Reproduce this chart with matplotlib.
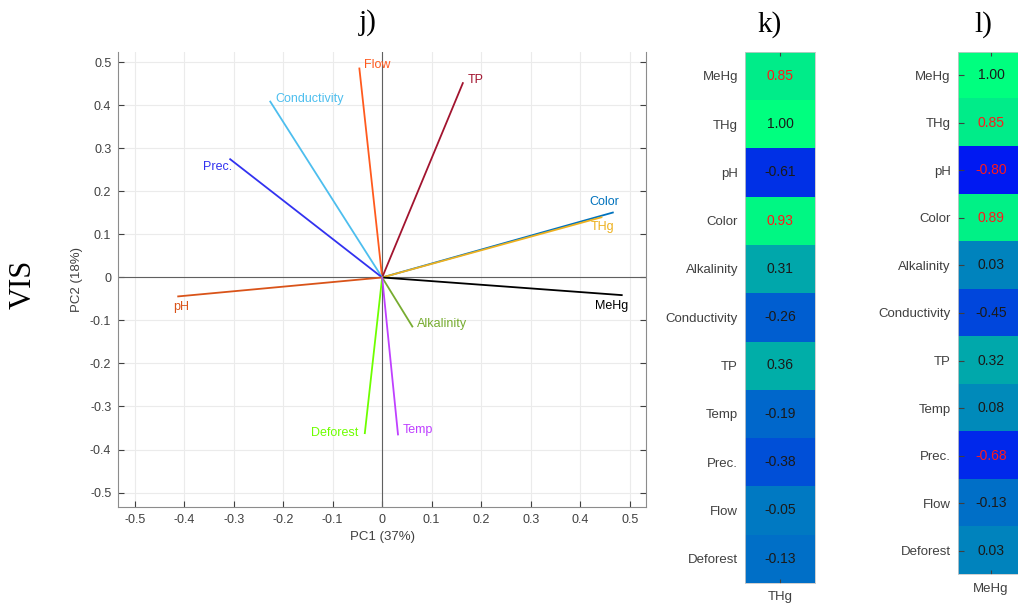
import numpy as np
import matplotlib
matplotlib.use('Agg')
import matplotlib.pyplot as plt

plt.rcParams['font.family'] = ['Liberation Sans', 'DejaVu Sans']
plt.rcParams['axes.unicode_minus'] = False

# Cargas del PCA (PC1, PC2)
variables = ['Flow', 'TP', 'Conductivity', 'Prec.', 'Color', 'THg', 'MeHg',
             'pH', 'Alkalinity', 'Deforest', 'Temp']
pc1 = [-0.046, 0.163, -0.226, -0.307, 0.466, 0.443, 0.484,
       -0.412, 0.061, -0.035, 0.032]
pc2 = [0.486, 0.452, 0.409, 0.275, 0.151, 0.140, -0.041,
       -0.044, -0.114, -0.362, -0.365]

# Correlaciones de Pearson con THg y MeHg
filas = ['MeHg', 'THg', 'pH', 'Color', 'Alkalinity', 'Conductivity', 'TP',
         'Temp', 'Prec.', 'Flow', 'Deforest']
corr_thg = [0.85, 1.00, -0.61, 0.93, 0.31, -0.26, 0.36, -0.19, -0.38, -0.05, -0.13]
corr_mehg = [1.00, 0.85, -0.80, 0.89, 0.03, -0.45, 0.32, 0.08, -0.68, -0.13, 0.03]
sig_thg = [True, False, False, True, False, False, False, False, False, False, False]
sig_mehg = [False, True, True, True, False, False, False, False, True, False, False]

# Estilo de cada vector: color, desplazamiento de la etiqueta en px (dx, dy hacia abajo), alineacion
estilo = {
    'Flow': ('#ff5a1e', 5, -3, 'left'),
    'TP': ('#a2142f', 5, -3, 'left'),
    'Conductivity': ('#4dbeee', 5, -3, 'left'),
    'Prec.': ('#3232f0', 2, 8, 'right'),
    'Color': ('#0072bd', -9, -11, 'center'),
    'THg': ('#edb120', 1, 10, 'center'),
    'MeHg': ('#000000', -10, 11, 'center'),
    'pH': ('#d95319', 3, 11, 'center'),
    'Alkalinity': ('#77ac30', 5, -3, 'left'),
    'Deforest': ('#6eff00', -6, 0, 'right'),
    'Temp': ('#bf40ff', 5, -4, 'left'),
}

W, H = 1018, 606
fig = plt.figure(figsize=(W / 100, H / 100), dpi=100)


def caja(x0, y0, x1, y1):
    # convierte pixeles (origen arriba-izquierda) a fracciones de figura
    return [x0 / W, 1 - y1 / H, (x1 - x0) / W, (y1 - y0) / H]


gris_texto = '#404040'

# ---- Biplot PCA ----
ax = fig.add_axes(caja(118.3, 51.7, 646, 506.7))
ax.set_xlim(-0.533, 0.533)
ax.set_ylim(-0.533, 0.525)
ticks = np.round(np.arange(-0.5, 0.51, 0.1), 1)
etiquetas = ['0' if t == 0 else f'{t:g}' for t in ticks]
ax.set_xticks(ticks, etiquetas)
ax.set_yticks(ticks, etiquetas)
ax.grid(True, color='#ebebeb', linewidth=0.8)
ax.set_axisbelow(True)
ax.tick_params(direction='in', length=4, labelsize=9, colors=gris_texto,
               top=False, right=True, labelright=False, pad=5)
for lado in ['left', 'bottom', 'right']:
    ax.spines[lado].set_color('#8c8c8c')
    ax.spines[lado].set_linewidth(0.8)
ax.spines['top'].set_visible(False)
ax.axhline(0, color='#606060', linewidth=0.8)
ax.axvline(0, color='#606060', linewidth=0.8)

for nombre, x, y in zip(variables, pc1, pc2):
    color, dx, dy, ha = estilo[nombre]
    ax.plot([0, x], [0, y], color=color, linewidth=1.3)
    ax.annotate(nombre, (x, y), xytext=(dx * 0.72, -dy * 0.72), textcoords='offset points',
                ha=ha, va='center', color=color, fontsize=9)

ax.set_xlabel('PC1 (37%)', fontsize=9.5, color=gris_texto, labelpad=4)
ax.set_ylabel('PC2 (18%)', fontsize=9.5, color=gris_texto, labelpad=5)


# ---- Mapas de calor ----
def mapa_calor(pos, valores, signif, etiqueta_x, marcas_izq):
    axh = fig.add_axes(pos)
    axh.imshow(np.array(valores)[:, None], cmap='winter', vmin=-1, vmax=1, aspect='auto')
    for i, v in enumerate(valores):
        axh.text(0, i, f'{v:.2f}', ha='center', va='center', fontsize=10,
                 color='#ff1a1a' if signif[i] else '#1a1a1a')
    axh.set_yticks(range(len(filas)), filas)
    axh.set_xticks([0], [etiqueta_x])
    axh.tick_params(axis='y', direction='in', length=4 if marcas_izq else 0,
                    labelsize=9.5, colors=gris_texto, pad=5)
    axh.tick_params(axis='x', direction='in', length=3, labelsize=9.5,
                    colors=gris_texto, top=True, pad=6)
    for lado in axh.spines.values():
        lado.set_color('#c8c8c8')
        lado.set_linewidth(0.6)
    return axh


mapa_calor(caja(745, 51.7, 815, 582.7), corr_thg, sig_thg, 'THg', False)
mapa_calor(caja(957.7, 51.7, 1024.3, 574.3), corr_mehg, sig_mehg, 'MeHg', True)

# Titulos de los paneles
serif = ['Liberation Serif', 'DejaVu Serif']
fig.text(368 / W, 1 - 23 / H, 'j)', ha='center', va='center', fontsize=21, family=serif)
fig.text(770 / W, 1 - 25 / H, 'k)', ha='center', va='center', fontsize=21, family=serif)
fig.text(983 / W, 1 - 25 / H, 'l)', ha='center', va='center', fontsize=21, family=serif)
fig.text(23 / W, 1 - 284 / H, 'VIS', ha='center', va='center', fontsize=22,
         rotation=90, family=serif)

fig.savefig('out.png', dpi=100)
